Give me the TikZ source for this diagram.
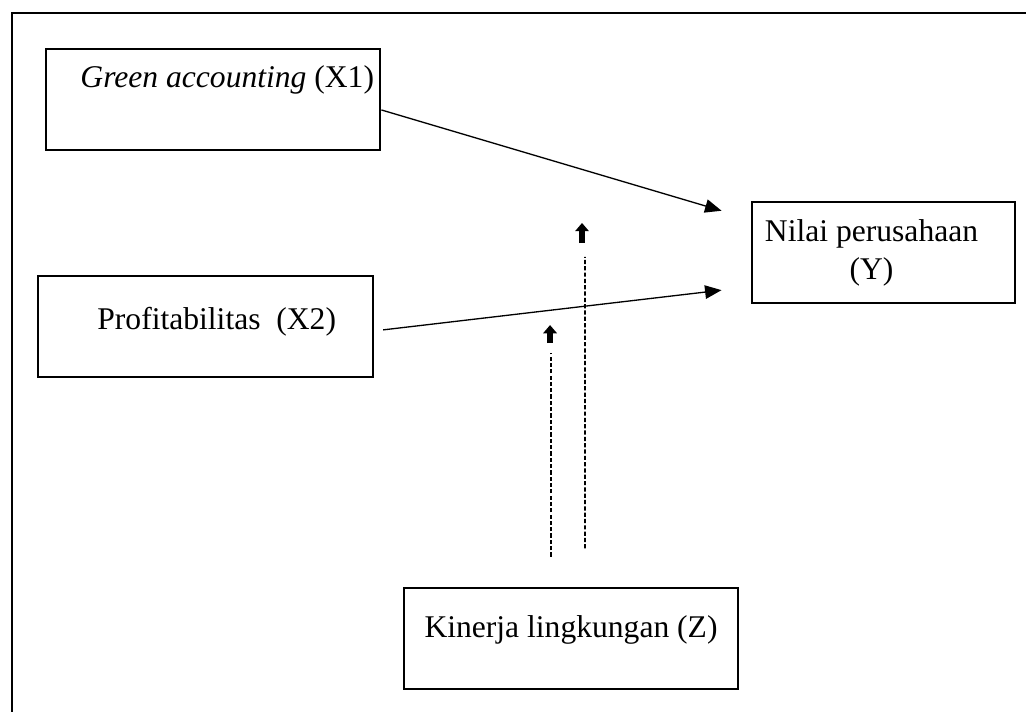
\documentclass[tikz,border=0pt]{standalone}
\usepackage{fontspec}
\setmainfont{Liberation Serif}
\usetikzlibrary{arrows.meta,positioning}

\begin{document}
\begin{tikzpicture}[
  font=\fontsize{12}{14.5}\selectfont,
  >=Triangle,
  box/.style={draw=black, line width=1pt, minimum width=44.6mm,
    minimum height=13.5mm, inner sep=0pt},
  boxtext/.style={inner sep=0pt, align=center},
  arrow/.style={-{Triangle[length=2.2mm,width=1.8mm]}, line width=0.5pt},
  dashline/.style={line width=0.7pt, dash pattern=on 1.6pt off 0.8pt},
  stub/.style={-{Triangle[length=1.1mm,width=1.8mm]}, line width=2.2pt}
]
\useasboundingbox (0,0) rectangle (136.97mm,-94.92mm);

% frame
\draw[line width=1.1pt] (1.6mm,-97mm) -- (1.6mm,-1.74mm) -- (139mm,-1.74mm);

% variables
\node[box] (x1) at (28.44mm,-13.28mm) {};
\node[boxtext] (x1text) at ([xshift=1.9mm,yshift=2.6mm]x1.center)
  {\textit{Green accounting} (X1)};

\node[box, minimum width=44.7mm] (x2) at (27.43mm,-43.59mm) {};
\node[boxtext] (x2text) at ([xshift=1.5mm,yshift=0.6mm]x2.center)
  {Profitabilitas \ (X2)};

\node[box, minimum width=35.1mm] (y) at (117.95mm,-33.71mm) {};
\node[boxtext] (ytext) at ([xshift=-1.6mm]y.center)
  {Nilai perusahaan\\(Y)};

\node[box] (z) at (76.23mm,-85.24mm) {};
\node[boxtext] (ztext) at ([yshift=1.1mm]z.center)
  {Kinerja lingkungan (Z)};

% direct effects
\coordinate (y1in) at ([xshift=-3.9mm,yshift=-1.35mm]y.north west);
\coordinate (y2in) at ([xshift=-3.9mm,yshift=1.9mm]y.south west);
\draw[arrow] ([yshift=-1.4mm]x1.east) -- (y1in);
\draw[arrow] ([xshift=1.2mm,yshift=-0.45mm]x2.east) -- (y2in);

% moderation
\coordinate (zleft) at ([xshift=-2.67mm,yshift=4mm]z.north);
\coordinate (zright) at ([xshift=1.87mm,yshift=5.1mm]z.north);
\coordinate (mleft) at (73.56mm,-47.13mm);
\coordinate (mright) at (78.10mm,-34.31mm);
\draw[dashline] (zleft) -- (mleft);
\draw[dashline] (zright) -- (mright);
\draw[stub] (73.43mm,-45.8mm) -- (73.43mm,-43.4mm);
\draw[stub] (77.70mm,-32.45mm) -- (77.70mm,-29.77mm);

\end{tikzpicture}
\end{document}
